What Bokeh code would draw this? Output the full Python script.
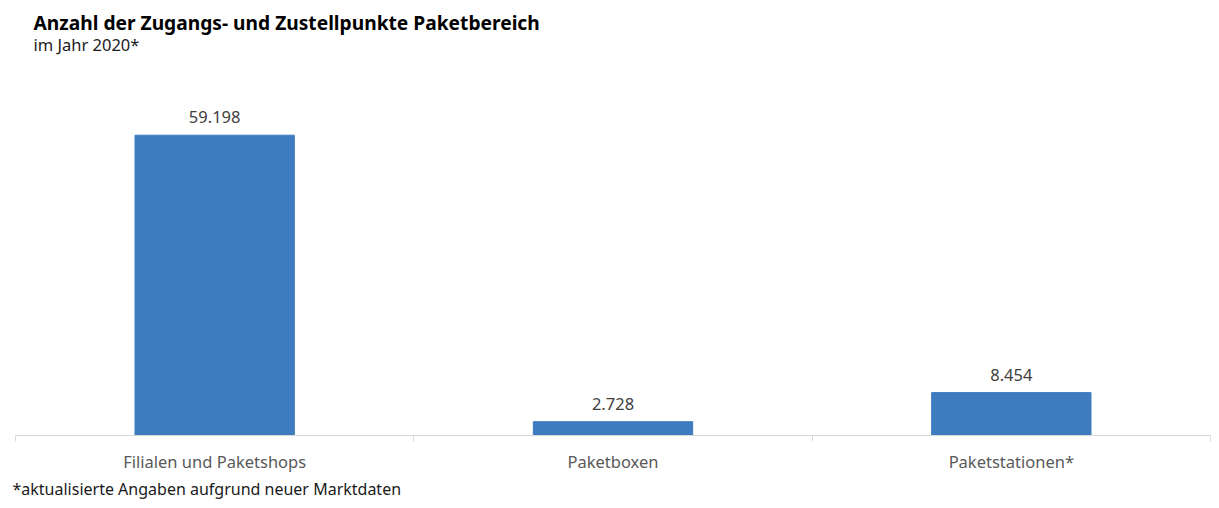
from bokeh.plotting import figure
from bokeh.models import Range1d, FixedTicker, Title, Label, ColumnDataSource
from bokeh.core.properties import value
from bokeh.embed import file_html
from bokeh.resources import INLINE

categories = ["Filialen und Paketshops", "Paketboxen", "Paketstationen*"]
counts = [59198, 2728, 8454]
title_text = "Anzahl der Zugangs- und Zustellpunkte Paketbereich"
subtitle_text = "im Jahr 2020*"
footnote_text = "*aktualisierte Angaben aufgrund neuer Marktdaten"

FONT = "Noto Sans"
BAR = "#3f7cbf"

xs = [i + 0.5 for i in range(len(categories))]
labels = [f"{v:,}".replace(",", ".") for v in counts]
src = ColumnDataSource(dict(x=xs, y=counts, lab=labels))

FRAME_H = 436
y_end = 59198 * FRAME_H / 301

p = figure(width=1211, height=500, output_backend="svg", toolbar_location=None,
           x_range=Range1d(0, len(categories)), y_range=Range1d(0, y_end),
           min_border_left=15, min_border_right=1, min_border_top=0, min_border_bottom=0)
p.outline_line_color = None
p.xgrid.visible = False
p.ygrid.visible = False
p.yaxis.visible = False

p.vbar(x="x", top="y", width=0.4, source=src, color=BAR)
p.text(x="x", y="y", text="lab", source=src, text_align="center", text_baseline="bottom",
       y_offset=-12, text_font=value(FONT), text_font_size="16.5px", text_color="#404040")

ax = p.xaxis[0]
ax.ticker = FixedTicker(ticks=xs, minor_ticks=list(range(len(categories) + 1)))
ax.major_label_overrides = {x: c for x, c in zip(xs, categories)}
ax.major_tick_line_color = None
ax.major_tick_out = 0
ax.major_tick_in = 0
ax.minor_tick_line_color = "#d9d9d9"
ax.minor_tick_out = 6
ax.minor_tick_in = 0
ax.axis_line_color = "#d9d9d9"
ax.major_label_text_font = FONT
ax.major_label_text_font_size = "16.5px"
ax.major_label_text_color = "#595959"
ax.major_label_standoff = 8

p.add_layout(Title(text=footnote_text, align="left", offset=-3, text_font=FONT,
                   text_font_size="16px", text_font_style="normal", text_color="#1a1a1a",
                   standoff=1), "below")

p.add_layout(Label(x=18, y=FRAME_H - 23, x_units="screen", y_units="screen", text=title_text,
                   text_font=FONT, text_font_size="19.2px", text_font_style="bold",
                   text_color="#000000", text_baseline="middle"))
p.add_layout(Label(x=18, y=FRAME_H - 45, x_units="screen", y_units="screen", text=subtitle_text,
                   text_font=FONT, text_font_size="16.5px", text_color="#1a1a1a",
                   text_baseline="middle"))

open("out.html", "w").write(file_html(p, INLINE))
